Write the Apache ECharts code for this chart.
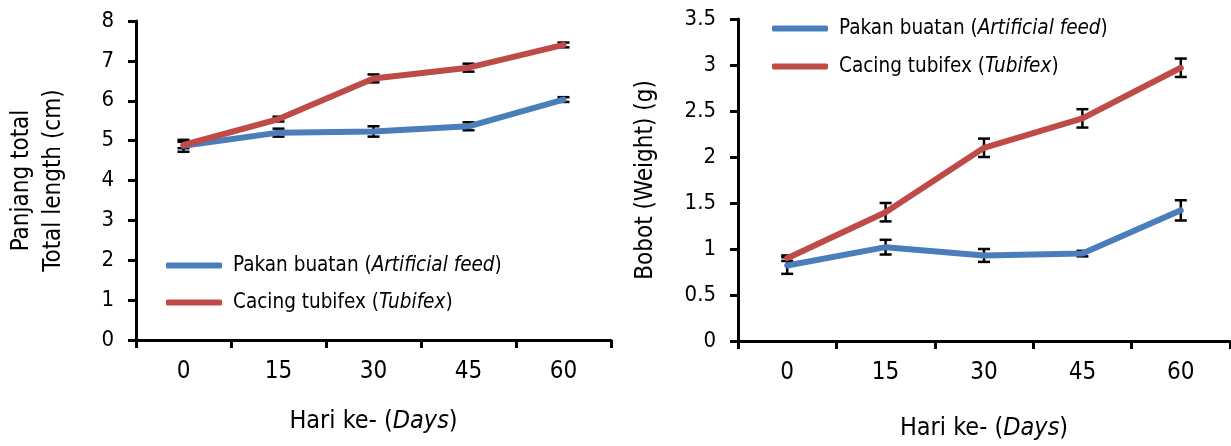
<!DOCTYPE html>
<html>
<head>
<meta charset="utf-8">
<script src="https://cdn.jsdelivr.net/npm/echarts@6/dist/echarts.min.js"></script>
<style>
html,body{margin:0;padding:0;background:#fff;}
#chart{width:1231px;height:446px;}
</style>
</head>
<body>
<div id="chart"></div>
<script>
// ---- data ----
const days = ['0', '15', '30', '45', '60'];
const seriesNames = ['Pakan buatan (Artificial feed)', 'Cacing tubifex (Tubifex)'];

const lengthArtificial = [4.87, 5.20, 5.23, 5.36, 6.03];
const lengthArtificialErr = [0.15, 0.10, 0.13, 0.10, 0.06];
const lengthTubifex = [4.89, 5.54, 6.56, 6.83, 7.40];
const lengthTubifexErr = [0.08, 0.06, 0.10, 0.10, 0.06];

const weightArtificial = [0.82, 1.02, 0.93, 0.95, 1.42];
const weightArtificialErr = [0.09, 0.08, 0.07, 0.03, 0.11];
const weightTubifex = [0.90, 1.40, 2.10, 2.42, 2.97];
const weightTubifexErr = [0.03, 0.10, 0.10, 0.10, 0.10];

// ---- style ----
const FONT = '"Liberation Sans Narrow", "DejaVu Sans Condensed", "Open Sans", sans-serif';
const BLUE = '#4A7EBB';
const RED = '#BE4B48';

const chart = echarts.init(document.getElementById('chart'));

function errData(vals, errs) {
  return vals.map((v, i) => [i, v - errs[i], v + errs[i]]);
}

function errorSeries(name, xi, yi, vals, errs) {
  return {
    type: 'custom',
    name: name,
    xAxisIndex: xi,
    yAxisIndex: yi,
    z: 1,
    silent: true,
    data: errData(vals, errs),
    renderItem: function (params, api) {
      const x = api.value(0);
      const lo = api.coord([x, api.value(1)]);
      const hi = api.coord([x, api.value(2)]);
      const hw = 6;
      const st = {stroke: '#000', lineWidth: 2.5};
      return {
        type: 'group',
        children: [
          {type: 'line', shape: {x1: lo[0], y1: lo[1], x2: hi[0], y2: hi[1]}, style: st},
          {type: 'line', shape: {x1: lo[0] - hw, y1: lo[1], x2: lo[0] + hw, y2: lo[1]}, style: st},
          {type: 'line', shape: {x1: hi[0] - hw, y1: hi[1], x2: hi[0] + hw, y2: hi[1]}, style: st}
        ]
      };
    }
  };
}

function lineSeries(name, xi, yi, vals, color) {
  return {
    type: 'line',
    name: name,
    xAxisIndex: xi,
    yAxisIndex: yi,
    z: 3,
    data: vals,
    symbol: 'none',
    color: color,
    lineStyle: {color: color, width: 6, cap: 'round', join: 'round'}
  };
}

function xAxisDef(gi, gap) {
  return {
    type: 'category',
    gridIndex: gi,
    data: days,
    boundaryGap: true,
    axisLine: {lineStyle: {color: '#000', width: 3}},
    axisTick: {show: true, length: 8, lineStyle: {color: '#000', width: 3}},
    axisLabel: {margin: 20, fontFamily: FONT, fontSize: 24, color: '#000'},
    name: '{n|Hari ke- (}{i|Days}{n|)}',
    nameLocation: 'middle',
    nameGap: gap,
    nameTextStyle: {
      rich: {
        n: {fontFamily: FONT, fontSize: 25, color: '#000'},
        i: {fontFamily: FONT, fontSize: 25, color: '#000', fontStyle: 'italic'}
      }
    }
  };
}

function legendFormatter(name) {
  const m = name.match(/^(.*\()(.*)(\))$/);
  return '{n|' + m[1] + '}{i|' + m[2] + '}{n|' + m[3] + '}';
}

function legendDef(left, top, gap) {
  return {
    data: seriesNames,
    orient: 'vertical',
    left: left,
    top: top,
    itemGap: gap,
    itemWidth: 56,
    itemHeight: 6,
    icon: 'roundRect',
    formatter: legendFormatter,
    selectedMode: false,
    textStyle: {
      padding: [0, 0, 0, 6],
      rich: {
        n: {fontFamily: FONT, fontSize: 20.5, color: '#000'},
        i: {fontFamily: FONT, fontSize: 20.5, color: '#000', fontStyle: 'italic'}
      }
    }
  };
}

const option = {
  animation: false,
  backgroundColor: '#fff',
  grid: [
    {left: 136, top: 21, width: 475, height: 319},
    {left: 738, top: 19, width: 492, height: 322}
  ],
  legend: [legendDef(161, 250, 16), legendDef(767, 13, 17)],
  xAxis: [xAxisDef(0, 69), xAxisDef(1, 75)],
  yAxis: [
    {
      type: 'value', gridIndex: 0, min: 0, max: 8, interval: 1,
      splitLine: {show: false},
      axisLine: {show: true, lineStyle: {color: '#000', width: 3}},
      axisTick: {show: true, length: 8, lineStyle: {color: '#000', width: 3}},
      axisLabel: {margin: 22, fontFamily: FONT, fontSize: 22, color: '#000'},
      name: 'Panjang total\nTotal length (cm)',
      nameLocation: 'middle',
      nameRotate: 90,
      nameGap: 66,
      nameTextStyle: {fontFamily: FONT, fontSize: 24, color: '#000', lineHeight: 32}
    },
    {
      type: 'value', gridIndex: 1, min: 0, max: 3.5, interval: 0.5,
      splitLine: {show: false},
      axisLine: {show: true, lineStyle: {color: '#000', width: 3}},
      axisTick: {show: true, length: 8, lineStyle: {color: '#000', width: 3}},
      axisLabel: {margin: 22, fontFamily: FONT, fontSize: 22, color: '#000'},
      name: 'Bobot (Weight) (g)',
      nameLocation: 'middle',
      nameRotate: 90,
      nameGap: 80,
      nameTextStyle: {fontFamily: FONT, fontSize: 24, color: '#000'}
    }
  ],
  series: [
    errorSeries('errA', 0, 0, lengthArtificial, lengthArtificialErr),
    errorSeries('errT', 0, 0, lengthTubifex, lengthTubifexErr),
    lineSeries(seriesNames[0], 0, 0, lengthArtificial, BLUE),
    lineSeries(seriesNames[1], 0, 0, lengthTubifex, RED),
    errorSeries('errA2', 1, 1, weightArtificial, weightArtificialErr),
    errorSeries('errT2', 1, 1, weightTubifex, weightTubifexErr),
    lineSeries(seriesNames[0], 1, 1, weightArtificial, BLUE),
    lineSeries(seriesNames[1], 1, 1, weightTubifex, RED)
  ]
};
chart.setOption(option);
</script>
</body>
</html>
